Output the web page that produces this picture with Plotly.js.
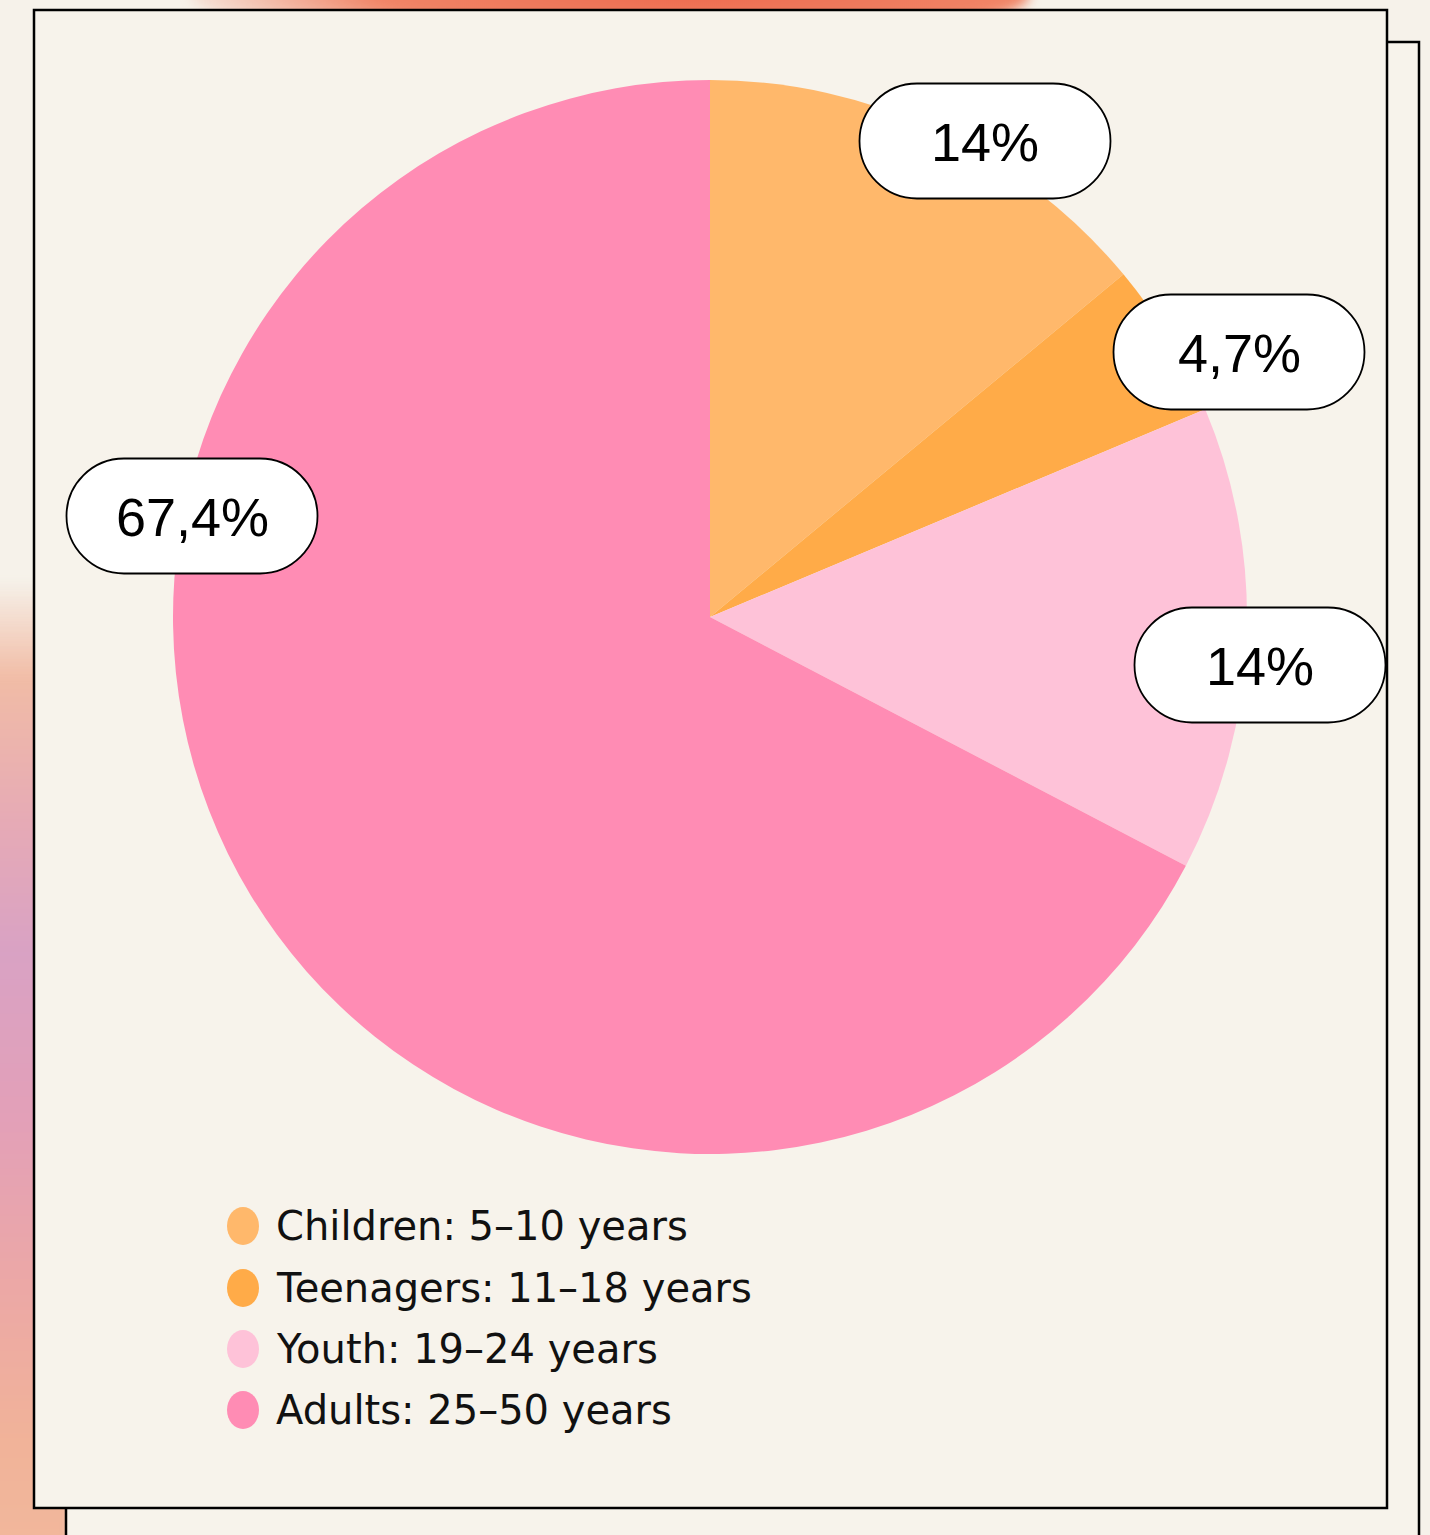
<!DOCTYPE html>
<html>
<head>
<meta charset="utf-8">
<script src="https://cdn.plot.ly/plotly-3.0.1.min.js"></script>
<style>
  html, body { margin: 0; padding: 0; background: #F6F2EA; }
  #wrap { position: relative; width: 1430px; height: 1535px; overflow: hidden; }
  #bg { position: absolute; left: 0; top: 0; width: 1430px; height: 1535px; }
  #bgTop { position: absolute; left: 190px; top: -60px; width: 840px; height: 110px; border-radius: 50%;
           background: radial-gradient(ellipse at 60% 50%, #EE6A4E 0%, #F08466 45%, rgba(246,242,234,0) 75%); filter: blur(6px); }
  #bgLeft { position: absolute; left: -40px; top: 580px; width: 110px; height: 980px;
            background: linear-gradient(to bottom, rgba(246,242,234,0) 0%, #F1BCA6 10%, #E6AAB6 25%, #D9A2C4 38%, #E3A0B8 55%, #ECA8A6 72%, #F1B399 88%, #F2B89C 100%); filter: blur(4px); }
  #plot { position: absolute; left: 0; top: 0; width: 1430px; height: 1535px; }
</style>
</head>
<body>
<div id="wrap">
  <div id="bg"><div id="bgTop"></div><div id="bgLeft"></div></div>
  <div id="plot"></div>
</div>
<script>
// ---- data ----
var categories = ["Children: 5–10 years", "Teenagers: 11–18 years", "Youth: 19–24 years", "Adults: 25–50 years"];
var shares = [14, 4.7, 14, 67.4];
var shareLabels = ["14%", "4,7%", "14%", "67,4%"];
var sliceColors = ["#FFB86B", "#FFAB48", "#FEC2D8", "#FF8CB4"];

// ---- geometry helpers (pixel -> paper) ----
var W = 1430, H = 1535;
function px(x) { return x / W; }
function py(y) { return 1 - y / H; }

function pillPath(cx, cy, w, h) {
  var r = h / 2, k = 0.5523 * r;
  var x0 = cx - w / 2 + r, x1 = cx + w / 2 - r;
  var t = cy - r, b = cy + r;
  function P(x, y) { return px(x).toFixed(6) + "," + py(y).toFixed(6); }
  return "M" + P(x0, t) + " L" + P(x1, t) +
    " C" + P(x1 + k, t) + " " + P(x1 + r, cy - k) + " " + P(x1 + r, cy) +
    " C" + P(x1 + r, cy + k) + " " + P(x1 + k, b) + " " + P(x1, b) +
    " L" + P(x0, b) +
    " C" + P(x0 - k, b) + " " + P(x0 - r, cy + k) + " " + P(x0 - r, cy) +
    " C" + P(x0 - r, cy - k) + " " + P(x0 - k, t) + " " + P(x0, t) + " Z";
}

// pie placement
var cx = 710, cy = 617, R = 537;

var trace = {
  type: "pie",
  labels: categories,
  values: shares,
  sort: false,
  direction: "clockwise",
  rotation: 0,
  textinfo: "none",
  hoverinfo: "label+percent",
  marker: { colors: sliceColors, line: { width: 0 } },
  domain: { x: [px(cx - R), px(cx + R)], y: [py(cy + R), py(cy - R)] },
  showlegend: false
};

var shapes = [];
// back card
shapes.push({ type: "rect", xref: "paper", yref: "paper", layer: "below",
  x0: px(66), x1: px(1419), y0: py(1560), y1: py(42),
  fillcolor: "#F7F3EB", line: { color: "#000", width: 2.5 } });
// front card
shapes.push({ type: "rect", xref: "paper", yref: "paper", layer: "below",
  x0: px(34), x1: px(1387), y0: py(1508), y1: py(10),
  fillcolor: "#F7F3EB", line: { color: "#000", width: 2.5 } });

// pill labels
var pillCenters = [[985, 141], [1239, 352], [1260, 665], [192, 516]];
var annotations = [];
for (var i = 0; i < shares.length; i++) {
  shapes.push({ type: "path", xref: "paper", yref: "paper", layer: "above",
    path: pillPath(pillCenters[i][0], pillCenters[i][1], 251, 115),
    fillcolor: "#FFFFFF", line: { color: "#000", width: 1.8 } });
  annotations.push({ xref: "paper", yref: "paper", x: px(pillCenters[i][0]), y: py(pillCenters[i][1] + 1),
    text: shareLabels[i], showarrow: false, xanchor: "center", yanchor: "middle",
    font: { family: "Liberation Sans, Arial, sans-serif", size: 54, color: "#000" } });
}

// custom legend
var legendRowY = [1226, 1288, 1349, 1410];
for (var j = 0; j < categories.length; j++) {
  shapes.push({ type: "circle", xref: "paper", yref: "paper", layer: "above",
    x0: px(227), x1: px(259), y0: py(legendRowY[j] + 19), y1: py(legendRowY[j] - 19),
    fillcolor: sliceColors[j], line: { width: 0 } });
  annotations.push({ xref: "paper", yref: "paper", x: px(274), y: py(legendRowY[j]),
    text: categories[j], showarrow: false, xanchor: "left", yanchor: "middle",
    font: { family: "DejaVu Sans, sans-serif", size: 40, color: "#111" } });
}

var layout = {
  width: W, height: H,
  margin: { l: 0, r: 0, t: 0, b: 0 },
  paper_bgcolor: "rgba(0,0,0,0)",
  plot_bgcolor: "rgba(0,0,0,0)",
  showlegend: false,
  shapes: shapes,
  annotations: annotations
};

Plotly.newPlot("plot", [trace], layout, { displayModeBar: false, staticPlot: true });
</script>
</body>
</html>
